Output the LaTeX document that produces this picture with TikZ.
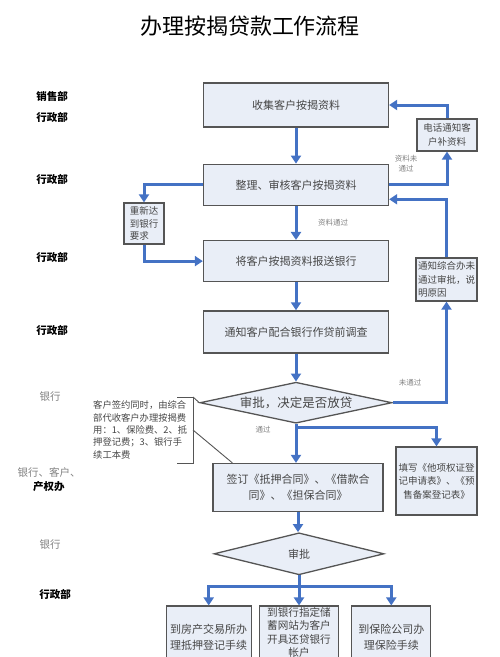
\documentclass[tikz,border=0pt]{standalone}
\usepackage{fontspec}
\setmainfont{Noto Sans CJK SC}
\definecolor{FlowBlue}{RGB}{68,114,196}
\definecolor{BoxFill} {RGB}{233,238,247}
\definecolor{BoxLine} {RGB}{85,85,85}
\definecolor{TextGray}{RGB}{70,70,70}
\usetikzlibrary{arrows.meta,positioning,shapes.geometric}

\begin{document}
\begin{tikzpicture}[x=1pt,y=-1pt,
  box/.style={draw=BoxLine,fill=BoxFill,line width=1.3pt,
              minimum width=185pt,minimum height=42pt,inner sep=1pt,
              align=center,text=TextGray,font=\fontsize{11}{15.5}\selectfont},
  sidebox/.style={box,minimum width=60pt,minimum height=32pt,
              font=\fontsize{9.5}{13.5}\selectfont},
  decision/.style={diamond,aspect=4.7,draw=BoxLine,fill=BoxFill,
              line width=1.3pt,inner sep=0pt,text=TextGray},
  flow/.style={-{Triangle[length=8pt,width=10pt]},FlowBlue,line width=3pt},
  callout/.style={draw=BoxLine,line width=0.9pt},
  dept/.style={font=\fontsize{10.5}{14}\selectfont\bfseries,align=center},
  bank/.style={font=\fontsize{10.5}{14}\selectfont,text=gray},
  tag/.style={font=\fontsize{7.5}{10}\selectfont,text=gray,align=center}]
  \useasboundingbox (0,0) rectangle (500,657);

  \node[font=\fontsize{22}{26}\selectfont] (title) at (250,26)
        {办理按揭贷款工作流程};

  % departments
  \node[dept] (d-sale)  at (52,96)  {销售部};
  \node[dept] (d-adm1)  at (52,117) {行政部};
  \node[dept] (d-adm2)  at (52,179) {行政部};
  \node[dept] (d-adm3)  at (52,257) {行政部};
  \node[dept] (d-adm4)  at (52,330) {行政部};
  \node[bank] (d-bank1) at (50,397) {银行};
  \node[dept] (d-mix)   at (49,480)
        {\textcolor{gray}{\mdseries 银行、客户、}\\产权办};
  \node[bank] (d-bank2) at (50,545) {银行};
  \node[dept] (d-adm5)  at (55,594) {行政部};

  % main column
  \node[box,minimum height=44pt] (collect) at (296,105) {收集客户按揭资料};
  \node[box,below=36pt of collect,minimum height=41pt] (review)
        {整理、审核客户按揭资料};
  \node[box,below=34pt of review,minimum height=41pt] (send)
        {将客户按揭资料报送银行};
  \node[box,below=28pt of send] (survey)
        {通知客户配合银行作贷前调查};
  \node[decision,below=28pt of survey,minimum width=192pt,minimum height=41pt,
        font=\fontsize{12.5}{15}\selectfont] (loan) {审批，决定是否放贷};
  \node[box,below=39pt of loan,xshift=2pt,minimum width=170pt,minimum height=48pt]
        (sign) {签订《抵押合同》、《借款合\\同》、《担保合同》};
  \node[decision,below=20pt of sign,xshift=1pt,minimum width=170pt,minimum height=42pt,
        font=\fontsize{11}{14}\selectfont] (final) {审批};
  \node[box,below=30pt of final,minimum width=79pt,minimum height=62pt,
        text depth=10pt,font=\fontsize{10.6}{13.4}\selectfont]
        (account) {到银行指定储\\蓄网站为客户\\开具还贷银行\\帐户};
  \node[box,left=7pt of account,minimum width=85pt,minimum height=62pt]
        (house) {到房产交易所办\\理抵押登记手续};
  \node[box,right=12pt of account,minimum width=79pt,minimum height=62pt]
        (insure) {到保险公司办\\理保险手续};

  % side boxes
  \node[sidebox] (phone) at (447,135) {电话通知客\\户补资料};
  \node[sidebox,minimum width=61pt,minimum height=43pt,align=left]
        (reason) at (446.5,279.5) {通知综合办未\\通过审批，说\\明原因};
  \node[sidebox,minimum width=81pt,minimum height=68pt]
        (fillform) at (436.5,481) {填写《他项权证登\\记申请表》、《预\\售备案登记表》};
  \node[sidebox,minimum width=40pt,minimum height=41pt,align=left,
        font=\fontsize{9.5}{12.5}\selectfont] (redo) at (144,223.5)
        {重新达\\到银行\\要求};

  % fee note
  \node[font=\fontsize{9.3}{12.3}\selectfont,text=TextGray,align=left,
        anchor=west,inner sep=0pt] (fee) at (93,430)
        {客户签约同时，由综合\\部代收客户办理按揭费\\用：1、保险费、2、抵\\押登记费；3、银行手\\续工本费};
  \coordinate (braceTop) at (193,397);
  \coordinate (braceMid) at (193,430);
  \coordinate (braceBot) at (193,463);
  \draw[callout] ([xshift=-16pt]braceTop) -- (braceTop) -- (braceBot)
                 -- ([xshift=-16pt]braceBot);
  \draw[callout] (braceTop) -- (loan.west);
  \draw[callout] (braceMid) -- ([xshift=20pt]sign.north west);

  % labels on connectors
  \node[tag] (t-fail1) at (406,164) {资料未\\通过};
  \node[tag] (t-pass1) at (333,223) {资料通过};
  \node[tag] (t-fail2) at (410,383) {未通过};
  \node[tag] (t-pass2) at (263,430) {通过};

  % connectors
  \draw[flow] (collect) -- (review);
  \draw[flow] (review)  -- (send);
  \draw[flow] (send)    -- (survey);
  \draw[flow] (survey)  -- (loan);
  \draw[flow] (loan.south) -- (loan.south |- sign.north);
  \draw[flow] (sign.south) -- (sign.south |- final.north);
  \draw[flow] (final.south) -- (account.north);
  \coordinate[below=4pt of loan.south] (split1);
  \coordinate[below=11pt of final.south] (split2);
  \draw[flow] (split1) -| (fillform.north);
  \draw[flow] (split2) -| (house.north);
  \draw[flow] (split2) -| (insure.north);

  \draw[flow] (review.west) -| (redo.north);
  \draw[flow] (redo.south) |- (send.west);
  \draw[flow] (review.east) -| (phone.south);
  \draw[flow] (phone.north) |- (collect.east);
  \draw[flow] (loan.east) -| (reason.south);
  \draw[flow] (reason.north) |- ([yshift=-14.5pt]review.east);
\end{tikzpicture}
\end{document}
